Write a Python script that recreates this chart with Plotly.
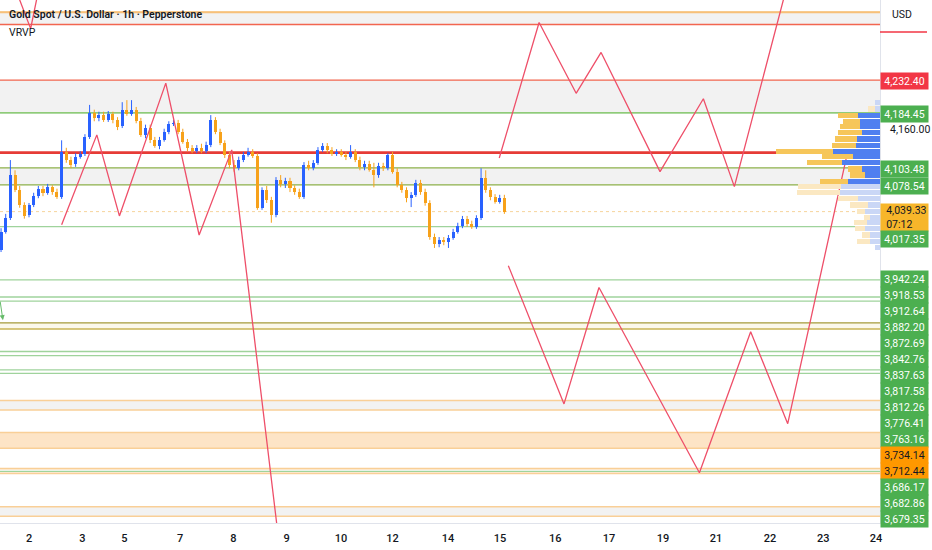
import plotly.graph_objects as go

# ---- candles (2h bars, hour offset from the "2" session open) ----
bar_hours = list(range(-12, 206, 2))

opens = [3983, 4009, 4030, 4093, 4071, 4049, 4034, 4049, 4062, 4073,
         4067, 4075, 4068, 4061, 4127, 4115, 4109, 4120, 4124, 4149,
         4184, 4177, 4181, 4174, 4183, 4174, 4165, 4189, 4183, 4189,
         4172, 4152, 4162, 4144, 4136, 4144, 4156, 4168, 4169, 4156,
         4142, 4133, 4128, 4133, 4128, 4137, 4174, 4156, 4140, 4122,
         4108, 4103, 4115, 4122, 4127, 4121, 4045, 4071, 4056, 4034,
         4086, 4080, 4084, 4074, 4068, 4061, 4108, 4103, 4111, 4130,
         4136, 4130, 4124, 4127, 4122, 4120, 4127, 4115, 4105, 4109,
         4100, 4093, 4106, 4103, 4122, 4098, 4078, 4071, 4059, 4064,
         4081, 4068, 4052, 4002, 3992, 3998, 3995, 4001, 4009, 4018,
         4029, 4021, 4017, 4030, 4089, 4071, 4061, 4053, 4059]
highs = [4015, 4036, 4115, 4100, 4077, 4053, 4052, 4067, 4077, 4077,
         4080, 4078, 4073, 4144, 4133, 4120, 4125, 4128, 4153, 4196,
         4189, 4186, 4186, 4187, 4186, 4178, 4200, 4203, 4203, 4193,
         4177, 4167, 4167, 4149, 4149, 4161, 4172, 4174, 4174, 4161,
         4146, 4137, 4137, 4139, 4142, 4181, 4178, 4161, 4144, 4127,
         4115, 4120, 4127, 4133, 4131, 4125, 4075, 4077, 4061, 4090,
         4093, 4089, 4089, 4078, 4073, 4112, 4114, 4115, 4134, 4140,
         4140, 4134, 4131, 4131, 4127, 4137, 4131, 4120, 4114, 4114,
         4111, 4111, 4111, 4125, 4127, 4103, 4083, 4075, 4068, 4086,
         4086, 4073, 4056, 4007, 4002, 4002, 4005, 4014, 4023, 4033,
         4033, 4026, 4034, 4103, 4100, 4075, 4065, 4064, 4064]
lows = [3980, 4007, 4027, 4068, 4045, 4029, 4031, 4046, 4059, 4062,
        4064, 4064, 4058, 4058, 4111, 4103, 4105, 4117, 4121, 4146,
        4172, 4172, 4171, 4171, 4169, 4159, 4162, 4180, 4180, 4169,
        4149, 4147, 4140, 4133, 4131, 4142, 4153, 4165, 4153, 4139,
        4128, 4125, 4125, 4125, 4125, 4134, 4153, 4137, 4118, 4103,
        4098, 4100, 4112, 4120, 4118, 4042, 4042, 4052, 4023, 4031,
        4075, 4074, 4068, 4064, 4058, 4058, 4100, 4100, 4108, 4127,
        4125, 4121, 4121, 4120, 4115, 4117, 4112, 4100, 4100, 4098,
        4075, 4089, 4099, 4100, 4095, 4075, 4067, 4053, 4046, 4061,
        4064, 4048, 3998, 3986, 3987, 3990, 3986, 3998, 4007, 4015,
        4017, 4014, 4014, 4027, 4067, 4056, 4051, 4051, 4036]
closes = [4009, 4030, 4093, 4071, 4049, 4033, 4049, 4062, 4073, 4067,
          4075, 4068, 4061, 4127, 4115, 4108, 4120, 4124, 4149, 4184,
          4177, 4181, 4174, 4183, 4174, 4164, 4189, 4183, 4189, 4172,
          4152, 4162, 4144, 4136, 4144, 4156, 4168, 4169, 4156, 4142,
          4133, 4128, 4133, 4128, 4137, 4174, 4156, 4140, 4122, 4108,
          4103, 4115, 4122, 4127, 4121, 4045, 4071, 4056, 4034, 4086,
          4080, 4084, 4074, 4068, 4061, 4108, 4103, 4111, 4130, 4136,
          4130, 4124, 4127, 4122, 4120, 4127, 4115, 4105, 4109, 4100,
          4093, 4106, 4103, 4122, 4098, 4078, 4071, 4059, 4064, 4081,
          4068, 4052, 4002, 3992, 3998, 3995, 4001, 4009, 4018, 4029,
          4021, 4017, 4030, 4089, 4071, 4061, 4053, 4059, 4039.33]
last_price = 4039.33
countdown = "07:12"

# time axis labels
day_labels = ["2", "3", "5", "7", "8", "9", "10", "12", "14", "15",
              "16", "17", "19", "21", "22", "23", "24"]
day_hours = [0, 22.9, 40.9, 64.8, 87.7, 110.6, 133.9, 156.0, 179.8, 202.1,
             225.8, 248.9, 272.1, 294.8, 318.0, 340.8, 363.5]

# ---- horizontal levels ----
orange_levels = [4332.0, 3762.0, 3748.0, 3715.0, 3692.0, 3662.0, 3655.0, 3606.0, 3592.0]
red_levels = [4314.0, 4232.40]
main_red_level = 4126.0
green_levels = [4184.45, 4017.35, 3939.0, 3914.0, 3908.0, 3834.0, 3828.0, 3807.0, 3802.0, 3658.0]
olive_levels = [4103.48, 4078.54, 3876.0, 3867.0]
grey_zones = [(4332.0, 4314.0), (4232.40, 4184.45), (4103.48, 4078.54),
              (3762.0, 3748.0), (3606.0, 3592.0)]
cream_zones = [(3876.0, 3867.0)]
orange_zones = [(3715.0, 3692.0)]

# ---- drawn zigzag paths (hour, price) ----
path_a_t = [14.0, 29.1, 38.8, 58.7, 73.0, 87.0, 107.4]
path_a_p = [4020, 4152, 4033, 4228, 4005, 4130, 3550]
path_b_t = [-6.0, 0.7, 4.3]
path_b_p = [4368, 4308, 4368]
path_c_t = [201.8, 218.9, 234.8, 245.5, 270.8, 289.4, 302.7, 325.1]
path_c_p = [4118, 4317, 4213, 4273, 4098, 4205, 4076, 4368]
path_d_t = [205.7, 229.6, 244.6, 287.7, 309.7, 325.6, 351.5]
path_d_p = [3960, 3757, 3928, 3656, 3863, 3728, 4130]

# ---- visible range volume profile ----
vp_price = [4199, 4190, 4181, 4172, 4164, 4155, 4146, 4137, 4128, 4120, 4111, 4102, 4093,
            4084, 4076, 4067, 4058, 4049, 4040, 4031, 4023, 4014, 4005, 3996, 3987]
vp_up = [5, 5, 22, 20, 20, 18, 23, 24, 47, 27, 38, 18, 15,
         32, 39, 40, 22, 12, 15, 10, 13, 15, 10, 10, 5]
vp_down = [0, 7, 20, 17, 20, 24, 22, 24, 57, 31, 35, 14, 15,
           28, 43, 43, 20, 18, 8, 6, 13, 10, 8, 13, 0]
va_high, va_low = 4181, 4084

# ---- price scale labels ----
scale_prices = [4232.40, 4184.45, 4103.48, 4078.54, 4017.35, 3942.24, 3918.53, 3912.64,
                3882.20, 3872.69, 3842.76, 3837.63, 3817.58, 3812.26, 3776.41, 3763.16,
                3734.14, 3712.44, 3686.17, 3682.86, 3679.35]
red_label_prices = [4232.40]
orange_label_prices = [3734.14, 3712.44]
axis_ticks = [4160]

FONT = "Roboto"
TXT = "#131722"
UP, DOWN = "#2962ff", "#f7a21b"
W, H = 932, 550
plot_w, plot_h = 880, 523
y_lo, y_hi = 3582.2, 4350.0


def to_px(p):
    return (y_hi - p) / (y_hi - y_lo) * plot_h


fig = go.Figure()

# zones
for a, b in grey_zones:
    fig.add_shape(type="rect", xref="paper", x0=0, x1=1, yref="y", y0=a, y1=b,
                  fillcolor="#f2f2f2", line_width=0, layer="below")
for a, b in cream_zones:
    fig.add_shape(type="rect", xref="paper", x0=0, x1=1, yref="y", y0=a, y1=b,
                  fillcolor="#fbf8ea", line_width=0, layer="below")
for a, b in orange_zones:
    fig.add_shape(type="rect", xref="paper", x0=0, x1=1, yref="y", y0=a, y1=b,
                  fillcolor="#fde4c6", line_width=0, layer="below")


def hline(p, color, width, dash="solid"):
    fig.add_shape(type="line", xref="paper", x0=0, x1=1, yref="y", y0=p, y1=p,
                  line=dict(color=color, width=width, dash=dash), layer="below")


for p in orange_levels:
    hline(p, "#f9cf97", 1.6)
hline(orange_levels[0], "#f7c079", 2)
for p in green_levels:
    hline(p, "#9fd39c", 1.3)
hline(green_levels[0], "#8fcb78", 1.5)
for p in olive_levels[:2]:
    hline(p, "#8db04a", 1.3)
hline(olive_levels[2], "#a59a3a", 1.3)
hline(olive_levels[3], "#c9b454", 1.3)
for p in red_levels:
    hline(p, "#f2664f", 1.4)
hline(last_price, "#f7d49c", 1, "dot")
hline(main_red_level, "#e63b36", 2.6)

# candles: wicks as broken lines, bodies as floating bars
for rising, color in [(True, UP), (False, DOWN)]:
    wx, wy = [], []
    for t, o, h, l, c in zip(bar_hours, opens, highs, lows, closes):
        if (c >= o) == rising:
            wx += [t, t, None]
            wy += [l, h, None]
    fig.add_trace(go.Scatter(x=wx, y=wy, mode="lines", line=dict(color=color, width=1),
                             showlegend=False, hoverinfo="skip"))
body_base = [min(o, c) for o, c in zip(opens, closes)]
body_len = [max(abs(c - o), 1.0) for o, c in zip(opens, closes)]
body_col = [UP if c >= o else DOWN for o, c in zip(opens, closes)]
fig.add_trace(go.Bar(x=bar_hours, y=body_len, base=body_base, width=1.3,
                     marker=dict(color=body_col, line_width=0),
                     showlegend=False, hoverinfo="skip"))

# volume profile (grows leftwards from the price scale)
in_va = [va_low <= p <= va_high for p in vp_price]
fig.add_trace(go.Bar(
    y=vp_price, x=vp_up, orientation="h", xaxis="x2", width=7.6,
    marker=dict(color=["#4f7ff0" if v else "#cad7f6" for v in in_va], line_width=0),
    showlegend=False, hoverinfo="skip",
))
fig.add_trace(go.Bar(
    y=vp_price, x=vp_down, base=vp_up, orientation="h", xaxis="x2", width=7.6,
    marker=dict(color=["#f6c65a" if v else "#fbe8c2" for v in in_va], line_width=0),
    showlegend=False, hoverinfo="skip",
))

# zigzag drawings
for tt, pp in [(path_a_t, path_a_p), (path_b_t, path_b_p),
               (path_c_t, path_c_p), (path_d_t, path_d_p)]:
    fig.add_trace(go.Scatter(x=tt, y=pp, mode="lines",
                             line=dict(color="#ee4f69", width=1.3),
                             showlegend=False, hoverinfo="skip"))

# small green arrow at the left edge
fig.add_annotation(x=-11.2, y=3880, xref="x", yref="y", text="", showarrow=True,
                   ax=-4, ay=-20, arrowhead=2, arrowsize=1, arrowwidth=1,
                   arrowcolor="#66bb6a")

# titles
fig.add_annotation(x=7 / plot_w, y=1 - 15 / plot_h, xref="paper", yref="paper",
                   text="Gold Spot / U.S. Dollar · 1h · Pepperstone", showarrow=False,
                   xanchor="left", yanchor="middle",
                   font=dict(family=FONT, size=10.5, color=TXT, weight=600))
fig.add_annotation(x=7 / plot_w, y=1 - 32 / plot_h, xref="paper", yref="paper",
                   text="VRVP", showarrow=False, xanchor="left", yanchor="middle",
                   font=dict(family=FONT, size=10.5, color=TXT))
fig.add_annotation(x=1, y=1 - 15 / plot_h, xref="paper", yref="paper", xshift=10,
                   text="USD", showarrow=False, xanchor="left", yanchor="middle",
                   font=dict(family=FONT, size=10.5, color=TXT))
fig.add_shape(type="line", xref="paper", x0=1, x1=1 + 47 / plot_w, yref="paper",
              y0=1 - 32 / plot_h, y1=1 - 32 / plot_h, line=dict(color="#f23645", width=1.5))

# price scale labels, stacked so they never overlap
entries = [(p, "level") for p in scale_prices] + [(last_price, "last")]
entries.sort(key=lambda e: -e[0])
cursor = -1e9
for p, kind in entries:
    if kind == "last":
        h, top = 27, to_px(p) - 8.5
    else:
        h, top = 16, to_px(p) - 8
    top = max(top, cursor)
    cursor = top + h
    if kind == "last":
        text = "\u00a0\u00a0" + f"{p:,.2f}" + "<br>\u00a0\u00a0" + countdown
        bg, fc, al = "#f7b62a", TXT, "left"
    elif p in red_label_prices:
        text, bg, fc, al = f"{p:,.2f}", "#f23645", "white", "center"
    elif p in orange_label_prices:
        text, bg, fc, al = f"{p:,.2f}", "#ff9800", TXT, "center"
    else:
        text, bg, fc, al = f"{p:,.2f}", "#4caf50", "white", "center"
    fig.add_annotation(x=1, y=1 - top / plot_h, xref="paper", yref="paper",
                       xanchor="left", yanchor="top", text=text, showarrow=False,
                       width=47, height=h, align=al, bgcolor=bg, borderpad=0,
                       font=dict(family=FONT, size=10.5, color=fc))

fig.update_layout(
    width=W, height=H,
    margin=dict(l=0, r=W - plot_w, t=0, b=H - plot_h),
    paper_bgcolor="white", plot_bgcolor="white",
    barmode="overlay", bargap=0,
    font=dict(family=FONT, color=TXT),
    xaxis=dict(range=[-12.45, 365.2], tickvals=day_hours, ticktext=day_labels,
               showgrid=False, zeroline=False, ticks="", showline=True,
               linecolor="#e0e3eb", ticklabelstandoff=5,
               tickfont=dict(family=FONT, size=11, color=TXT, weight=500)),
    xaxis2=dict(overlaying="x", range=[plot_w, 0], visible=False),
    yaxis=dict(range=[y_lo, y_hi], side="right", tickvals=axis_ticks,
               ticktext=[f"{v:,.2f}" for v in axis_ticks], showgrid=False,
               zeroline=False, ticks="", showline=True, linecolor="#e0e3eb",
               ticklabelstandoff=7,
               tickfont=dict(family=FONT, size=10.5, color=TXT)),
)

# the page body has a default margin; drop it so the chart fills the window
fig.write_html("out.html", config={"displayModeBar": False},
               post_script="document.body.style.margin = '0';")
